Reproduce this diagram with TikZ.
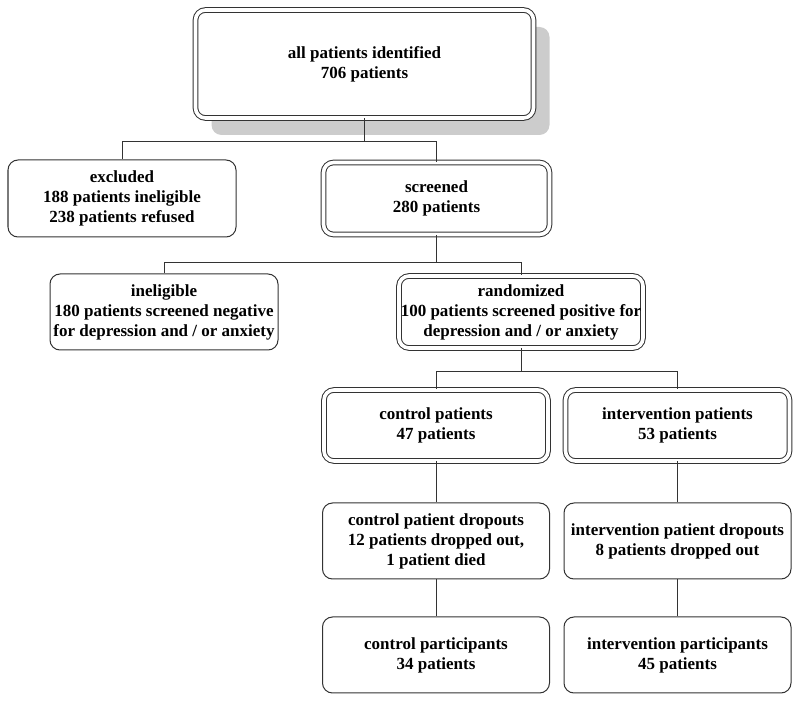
\documentclass[tikz,border=0pt]{standalone}
\usepackage{fontspec}
\setmainfont{Liberation Serif}
\usetikzlibrary{shadows}

\begin{document}
\begin{tikzpicture}[x=0.5pt,y=-0.5pt]

      \useasboundingbox (0,0) rectangle (800,701);

      \begin{scope}[every node/.style={draw=black!80, fill=white, rounded corners=5pt,
          line width=0.5pt, align=center, inner sep=0pt,
          font=\fontsize{8.5}{10}\selectfont\bfseries}]
        \begin{scope}[every node/.append style={double, double distance=1.8pt}]
          \node[minimum width=169pt, minimum height=54pt,
            drop shadow={shadow xshift=8pt, shadow yshift=-8.5pt, fill=black!20, opacity=1}]
            (all) at (364.5,64) {all patients identified\\706 patients};
          \node[minimum width=113pt, minimum height=36pt] (scr)  at (436.5,198.5) {screened\\280 patients};
          \node[minimum width=122pt, minimum height=36pt] (rand) at (521,312) {randomized\\100 patients screened positive for\\depression and / or anxiety};
          \node[minimum width=112pt, minimum height=35.5pt] (ctrl) at (436,425.5) {control patients\\47 patients};
          \node[minimum width=112pt, minimum height=35.5pt] (intv) at (677.5,425.5) {intervention patients\\53 patients};
        \end{scope}
        \node[minimum width=114pt, minimum height=38.5pt] (excl)     at (122,198.5) {excluded\\188 patients ineligible\\238 patients refused};
        \node[minimum width=114pt, minimum height=38pt]   (inel)     at (164,312) {ineligible\\180 patients screened negative\\for depression and / or anxiety};
        \node[minimum width=113.5pt, minimum height=38pt] (ctrldrop) at (436,541) {control patient dropouts\\12 patients dropped out,\\1 patient died};
        \node[minimum width=113.5pt, minimum height=38pt] (intvdrop) at (677.5,541) {intervention patient dropouts\\8 patients dropped out};
        \node[minimum width=113.5pt, minimum height=38pt] (ctrlpart) at (436,655) {control participants\\34 patients};
        \node[minimum width=113.5pt, minimum height=38pt] (intvpart) at (677.5,655) {intervention participants\\45 patients};
      \end{scope}

      % branch points
      \coordinate (j1) at (364.5,142);
      \coordinate (j2) at (436.5,262.5);
      \coordinate (j3) at (521,372);

      \begin{scope}[every path/.style={draw=black!80, line width=0.5pt}]
        \path (all) -- (j1) -| (excl);
        \path (j1) -| (scr);
        \path (scr) -- (j2) -| (inel);
        \path (j2) -| (rand);
        \path (rand) -- (j3) -| (ctrl);
        \path (j3) -| (intv);
        \path (ctrl) -- (ctrldrop);
        \path (ctrldrop) -- (ctrlpart);
        \path (intv) -- (intvdrop);
        \path (intvdrop) -- (intvpart);
      \end{scope}

    \end{tikzpicture}
\end{document}
